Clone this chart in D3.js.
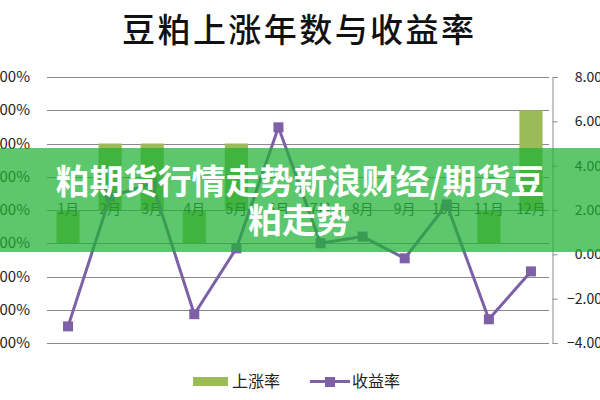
<!DOCTYPE html>
<html><head><meta charset="utf-8">
<script src="https://cdn.jsdelivr.net/npm/d3@7/dist/d3.min.js"></script>
<style>body{margin:0;background:#fff}svg{display:block}</style>
</head><body>
<svg id="c" width="600" height="400"></svg>
<script>
const months = ["1月","2月","3月","4月","5月","6月","7月","8月","9月","10月","11月","12月"];
const riseRate = [0.4,0.7,0.7,0.4,0.7,0.5,0.5,0.5,0.5,0.5,0.4,0.8];
const returnRate = [-3.25,2.6,3.2,-2.7,0.27,5.73,0.5,0.8,-0.18,2.25,-2.93,-0.77];
const leftTicks = [0.1,0.2,0.3,0.4,0.5,0.6,0.7,0.8,0.9];
const rightTicks = [-4,-2,0,2,4,6,8];
const title = "豆粕上涨年数与收益率";
const bannerLines = ["粕期货行情走势新浪财经/期货豆","粕走势"];
const legendNames = ["上涨率","收益率"];

const svg = d3.select("#c");
const plotTop = 77, plotBottom = 343, plotLeft = 47, plotRight = 552;
const x = d3.scaleBand().domain(months).range([plotLeft, plotRight]).paddingInner(0.45).paddingOuter(0.225);
const yL = d3.scaleLinear().domain([0.1, 0.9]).range([plotBottom, plotTop]);
const yR = d3.scaleLinear().domain([-4, 8]).range([plotBottom, plotTop]);
const cx = m => x(m) + x.bandwidth() / 2;
const font = "'Noto Sans CJK SC','Noto Sans',sans-serif";

// title
svg.append("text").attr("x", 298).attr("y", 42).attr("text-anchor", "middle")
  .attr("font-family", font).attr("font-size", 33).attr("font-weight", 500).attr("fill", "#111")
  .attr("textLength", 352).text(title);

// gridlines
svg.append("g").selectAll("line").data(leftTicks).join("line")
  .attr("x1", plotLeft).attr("x2", plotRight - 3)
  .attr("y1", d => Math.round(yL(d)) + 0.5).attr("y2", d => Math.round(yL(d)) + 0.5)
  .attr("stroke", "#8a8a8a").attr("stroke-width", 1);

// left labels
svg.append("g").selectAll("text").data(leftTicks).join("text")
  .attr("x", 30).attr("y", d => yL(d) + 5).attr("text-anchor", "end")
  .attr("font-family", font).attr("font-size", 15).attr("fill", "#222")
  .text(d => d3.format(".2%")(d));

// right axis
const ra = d3.axisRight(yR).tickValues(rightTicks).tickSize(5).tickFormat("");
const rg = svg.append("g").attr("transform", `translate(${plotRight + 0.5},0)`).call(ra);
rg.selectAll("path,line").attr("stroke", "#8a8a8a");
svg.append("g").selectAll("text").data(rightTicks).join("text")
  .attr("x", 602).attr("y", d => yR(d) + 5).attr("text-anchor", "end")
  .attr("font-family", font).attr("font-size", 14).attr("fill", "#222")
  .text(d => d3.format(".2f")(d));

// bars (from crossing 50%)
svg.append("g").selectAll("rect").data(months).join("rect")
  .attr("x", m => x(m))
  .attr("width", x.bandwidth())
  .attr("y", (m, i) => Math.min(yL(riseRate[i]), yL(0.5)))
  .attr("height", (m, i) => Math.abs(yL(riseRate[i]) - yL(0.5)))
  .attr("fill", "#9bbb59");

// category labels
svg.append("g").selectAll("text").data(months).join("text")
  .attr("x", m => cx(m)).attr("y", yL(0.5) + 4).attr("text-anchor", "middle")
  .attr("font-family", font).attr("font-size", 14).attr("fill", "#3a3a3a").text(m => m);

// line
const line = d3.line().x((d, i) => cx(months[i])).y(d => yR(d));
svg.append("path").datum(returnRate).attr("d", line)
  .attr("fill", "none").attr("stroke", "#7d60a6").attr("stroke-width", 3).attr("stroke-linejoin", "round");
svg.append("g").selectAll("rect").data(returnRate).join("rect")
  .attr("x", (d, i) => cx(months[i]) - 5).attr("y", d => yR(d) - 5)
  .attr("width", 10).attr("height", 10).attr("fill", "#7d60a6");

// legend
svg.append("rect").attr("x", 193).attr("y", 377).attr("width", 35).attr("height", 9).attr("fill", "#9bbb59");
svg.append("text").attr("x", 232).attr("y", 387).attr("font-family", font).attr("font-size", 16).attr("fill", "#222").text(legendNames[0]);
svg.append("line").attr("x1", 310).attr("x2", 350).attr("y1", 381.5).attr("y2", 381.5).attr("stroke", "#7d60a6").attr("stroke-width", 3);
svg.append("rect").attr("x", 325).attr("y", 377).attr("width", 10).attr("height", 10).attr("fill", "#7d60a6");
svg.append("text").attr("x", 352).attr("y", 387).attr("font-family", font).attr("font-size", 16).attr("fill", "#222").text(legendNames[1]);

// banner overlay
svg.append("rect").attr("x", 0).attr("y", 148).attr("width", 600).attr("height", 104)
  .attr("fill", "rgb(30,178,52)").attr("fill-opacity", 0.72);
svg.append("text").attr("x", 300).attr("y", 194).attr("text-anchor", "middle")
  .attr("font-family", font).attr("font-size", 34).attr("font-weight", 700).attr("fill", "#fff")
  .text(bannerLines[0]);
svg.append("text").attr("x", 299).attr("y", 233).attr("text-anchor", "middle")
  .attr("font-family", font).attr("font-size", 34).attr("font-weight", 700).attr("fill", "#fff")
  .text(bannerLines[1]);
</script>
</body></html>
